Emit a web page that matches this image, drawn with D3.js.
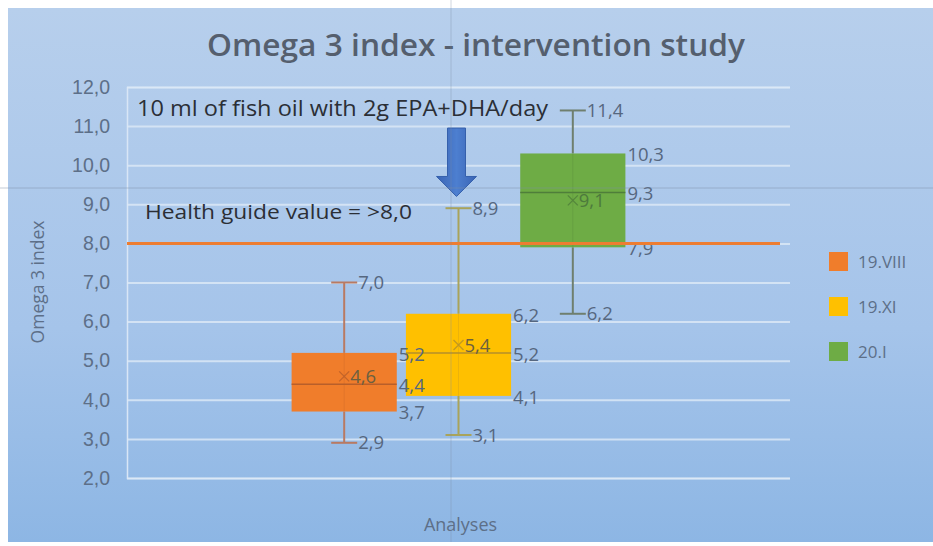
<!DOCTYPE html>
<html>
<head>
<meta charset="utf-8">
<script src="https://cdn.jsdelivr.net/npm/d3@7"></script>
<style>
  body { margin: 0; background: #fff; }
  svg { display: block; font-family: "Open Sans", Lato, sans-serif; }
</style>
</head>
<body>
<div id="chart"></div>
<script>
// data
var categories = ["Analyses"];
var series = ["19.VIII", "19.XI", "20.I"];
var minVals = [2.9, 3.1, 6.2];
var q1Vals = [3.7, 4.1, 7.9];
var medianVals = [4.4, 5.2, 9.3];
var meanVals = [4.6, 5.4, 9.1];
var q3Vals = [5.2, 6.2, 10.3];
var maxVals = [7.0, 8.9, 11.4];
var yTicks = [2, 3, 4, 5, 6, 7, 8, 9, 10, 11, 12];
var guideValue = 8.0;
var arrowFrom = 10.95, arrowTo = 9.2;

var colors = ["#F07D2B", "#FFC000", "#6EAC45"];
var whiskerColors = ["#b97a62", "#a9a35a", "#6f7f6e"];
var medianColors = ["#b85f2a", "#b58f2a", "#4f7e3a"];

var width = 933, height = 546;

var locale = d3.formatLocale({decimal: ",", thousands: " ", grouping: [3], currency: ["", ""]});
var fmt = locale.format(".1f");

var boxes = series.map(function(s, i) {
  return {name: s, min: minVals[i], q1: q1Vals[i], median: medianVals[i],
          mean: meanVals[i], q3: q3Vals[i], max: maxVals[i], i: i};
});

var svg = d3.select("#chart").append("svg")
  .attr("width", width).attr("height", height);

// background gradient
var defs = svg.append("defs");
var grad = defs.append("linearGradient").attr("id", "bg")
  .attr("x1", 0).attr("y1", 0).attr("x2", 0).attr("y2", 1);
grad.append("stop").attr("offset", "0%").attr("stop-color", "#b7cfec");
grad.append("stop").attr("offset", "60%").attr("stop-color", "#a5c4ea");
grad.append("stop").attr("offset", "100%").attr("stop-color", "#8db6e4");

var arrowGrad = defs.append("linearGradient").attr("id", "arrowg")
  .attr("x1", 0).attr("y1", 0).attr("x2", 1).attr("y2", 0);
arrowGrad.append("stop").attr("offset", "0%").attr("stop-color", "#3a64b4");
arrowGrad.append("stop").attr("offset", "50%").attr("stop-color", "#4d7fd0");
arrowGrad.append("stop").attr("offset", "100%").attr("stop-color", "#3a64b4");

svg.append("rect").attr("x", 8).attr("y", 8)
  .attr("width", width - 8).attr("height", 534)
  .attr("fill", "url(#bg)");

// scales
var y = d3.scaleLinear().domain([2, 12]).range([478, 87]);
var x0 = d3.scaleBand().domain(categories).range([127, 790]);
var x1 = d3.scaleBand().domain(series)
  .range([x0("Analyses"), x0("Analyses") + x0.bandwidth()])
  .paddingInner(0.08).paddingOuter(1.44);

// gridlines
var yAxis = d3.axisLeft(y).tickValues(yTicks).tickSize(-(790 - 127))
  .tickFormat(fmt).tickPadding(17);
var gAxis = svg.append("g").attr("transform", "translate(127,0)").call(yAxis);
gAxis.select(".domain").attr("stroke", "#d9e6f6").attr("stroke-width", 1.5);
gAxis.selectAll(".tick line").attr("stroke", "#dbe7f6").attr("stroke-width", 2).attr("opacity", 0.85);
gAxis.selectAll(".tick text")
  .attr("fill", "#5d6f88").style("font-size", "19.5px");

// axis titles
svg.append("text")
  .attr("transform", "translate(44," + 282 + ") rotate(-90)")
  .attr("text-anchor", "middle").attr("fill", "#5d6f88")
  .style("font-size", "17.5px").text("Omega 3 index");

svg.append("text")
  .attr("x", x0("Analyses") + x0.bandwidth() / 2 + 2).attr("y", 531)
  .attr("text-anchor", "middle").attr("fill", "#5d6f88")
  .style("font-size", "18px").text(categories[0]);

// title (screenshot is stretched sideways, so fit the width)
svg.append("text")
  .attr("x", 207).attr("y", 56)
  .attr("fill", "#555f6e")
  .attr("textLength", 538).attr("lengthAdjust", "spacingAndGlyphs")
  .style("font-size", "30px").style("font-weight", 600)
  .text("Omega 3 index - intervention study");

// box plots
var capW = 13;
var g = svg.append("g");
var box = g.selectAll(".box").data(boxes).enter().append("g").attr("class", "box");

box.each(function(d) {
  var sel = d3.select(this);
  var left = x1(d.name), bw = x1.bandwidth(), cx = left + bw / 2;

  // whiskers
  sel.append("line").attr("x1", cx).attr("x2", cx)
    .attr("y1", y(d.max)).attr("y2", y(d.q3))
    .attr("stroke", whiskerColors[d.i]).attr("stroke-width", 2);
  sel.append("line").attr("x1", cx).attr("x2", cx)
    .attr("y1", y(d.q1)).attr("y2", y(d.min))
    .attr("stroke", whiskerColors[d.i]).attr("stroke-width", 2);
  [d.max, d.min].forEach(function(v) {
    sel.append("line").attr("x1", cx - capW).attr("x2", cx + capW)
      .attr("y1", y(v)).attr("y2", y(v))
      .attr("stroke", whiskerColors[d.i]).attr("stroke-width", 2);
  });

  // box
  sel.append("rect").attr("x", left).attr("width", bw)
    .attr("y", y(d.q3)).attr("height", y(d.q1) - y(d.q3))
    .attr("fill", colors[d.i]);
  sel.append("line").attr("x1", cx).attr("x2", cx)
    .attr("y1", y(d.q3)).attr("y2", y(d.q1))
    .attr("stroke", medianColors[d.i]).attr("stroke-width", 1).attr("opacity", 0.25);
  // median
  sel.append("line").attr("x1", left).attr("x2", left + bw)
    .attr("y1", y(d.median)).attr("y2", y(d.median))
    .attr("stroke", medianColors[d.i]).attr("stroke-width", 1.5);

  // mean marker
  var my = y(d.mean);
  sel.append("path")
    .attr("d", "M" + (cx - 5) + "," + (my - 5) + "L" + (cx + 5) + "," + (my + 5) +
               "M" + (cx - 5) + "," + (my + 5) + "L" + (cx + 5) + "," + (my - 5))
    .attr("stroke", medianColors[d.i]).attr("stroke-width", 1.3).attr("opacity", 0.8);
});

// labels on top of all boxes
var labels = svg.append("g");
boxes.forEach(function(d) {
  var left = x1(d.name), bw = x1.bandwidth(), cx = left + bw / 2;
  [d.max, d.min].forEach(function(v) {
    labels.append("text").attr("x", cx + capW + 1).attr("y", y(v))
      .attr("dy", "0.36em").attr("fill", "#56677f")
      .style("font-size", "18.5px").text(fmt(v));
  });
  [d.q3, d.median, d.q1].forEach(function(v) {
    labels.append("text").attr("x", left + bw + 2).attr("y", y(v))
      .attr("dy", "0.42em").attr("fill", "#56677f")
      .style("font-size", "18.5px").text(fmt(v));
  });
  labels.append("text").attr("x", cx + 6).attr("y", y(d.mean))
    .attr("dy", "0.36em").attr("fill", d.i === 2 ? "#4d7a3c" : "#6b6040")
    .style("font-size", "18.5px").text(fmt(d.mean));
});

// health guide line
svg.append("line")
  .attr("x1", 127).attr("x2", 780)
  .attr("y1", y(guideValue)).attr("y2", y(guideValue))
  .attr("stroke", "#ED7D31").attr("stroke-width", 3);

// annotations
svg.append("text").attr("x", 137).attr("y", 116)
  .attr("fill", "#2b2f36").style("font-size", "21px")
  .attr("textLength", 411).attr("lengthAdjust", "spacingAndGlyphs")
  .text("10 ml of fish oil with 2g EPA+DHA/day");
svg.append("text").attr("x", 145).attr("y", 219)
  .attr("fill", "#2b2f36").style("font-size", "20.5px")
  .attr("textLength", 267).attr("lengthAdjust", "spacingAndGlyphs")
  .text("Health guide value = >" + fmt(guideValue));

// arrow pointing down at the supplementation start
var ax = x1("19.XI") + x1.bandwidth() / 2 - 2;
var aTop = y(arrowFrom), aTip = y(arrowTo);
var headH = 20, shaftW = 9, headW = 20;
svg.append("path")
  .attr("d", "M" + (ax - shaftW) + "," + aTop +
    "L" + (ax + shaftW) + "," + aTop +
    "L" + (ax + shaftW) + "," + (aTip - headH) +
    "L" + (ax + headW) + "," + (aTip - headH) +
    "L" + ax + "," + aTip +
    "L" + (ax - headW) + "," + (aTip - headH) +
    "L" + (ax - shaftW) + "," + (aTip - headH) + "Z")
  .attr("fill", "url(#arrowg)").attr("stroke", "#3560ac").attr("stroke-width", 1);

// legend
var legend = svg.append("g").selectAll("g").data(series).enter().append("g")
  .attr("transform", function(d, i) { return "translate(829," + (252 + i * 45) + ")"; });
legend.append("rect").attr("width", 19).attr("height", 19)
  .attr("fill", function(d, i) { return colors[i]; });
legend.append("text").attr("x", 29).attr("y", 10).attr("dy", "0.36em")
  .attr("fill", "#5d6f88").style("font-size", "17px")
  .text(function(d) { return d; });

// screenshot seams
svg.append("line").attr("x1", 0).attr("x2", width).attr("y1", 188).attr("y2", 188)
  .attr("stroke", "#7d8ea6").attr("stroke-width", 1).attr("opacity", 0.45);
svg.append("line").attr("x1", 451).attr("x2", 451).attr("y1", 0).attr("y2", 542)
  .attr("stroke", "#7d8ea6").attr("stroke-width", 1).attr("opacity", 0.35);
</script>
</body>
</html>
